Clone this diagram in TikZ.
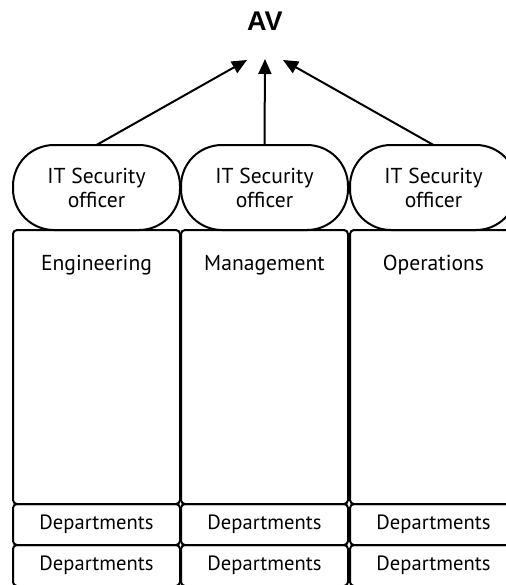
\documentclass[tikz,border=0pt]{standalone}
\usepackage{fontspec}
\usetikzlibrary{arrows.meta}
\newfontfamily\avfont{Liberation Sans}
\newfontfamily\labelfont{PT Sans}
\begin{document}
\begin{tikzpicture}[x=0.5pt,y=-0.5pt,
  every node/.style={inner sep=0pt,outer sep=0pt},
  pill/.style={draw,line width=1pt,rounded corners=20.5pt,minimum width=83.5pt,minimum height=42.5pt,
    align=center,font=\labelfont\fontsize{10.8}{12}\selectfont},
  unitbox/.style={draw,line width=1pt,rounded corners=2pt,minimum width=83.5pt,minimum height=137pt},
  unitname/.style={font=\labelfont\fontsize{10.8}{12}\selectfont},
  deptbox/.style={draw,line width=1pt,rounded corners=2pt,minimum width=83.5pt,minimum height=20.5pt,
    font=\labelfont\fontsize{10.3}{11}\selectfont},
  link/.style={line width=1pt,-{Triangle[length=7.5pt,width=6.5pt]}}]
\useasboundingbox (0,0) rectangle (506,585);
\clip (0,0) rectangle (506,585);

% top label and the three arrow ends below it
\node[font=\avfont\bfseries\fontsize{13.5}{14}\selectfont] (av) at (265,21) {AV};
\coordinate (tl) at (247,60);
\coordinate (tm) at (265,59);
\coordinate (tr) at (283,60);

% one column per unit
\foreach \n/\x/\u in {a/96.5/Engineering,b/264.5/Management,c/433.5/Operations}{
  \node[pill] (so\n) at (\x,187.5) {IT Security\\officer};
  \node[unitbox] (u\n) at (\x,367) {};
  \node[unitname] (un\n) at (\x,265) {\u};
  \node[deptbox] (d\n1) at (\x,524.5) {Departments};
  \node[deptbox] (d\n2) at (\x,565.5) {Departments};
}

\draw[link] (soa.north) -- (tl);
\draw[link] (sob.north) -- (tm);
\draw[link] (soc.north) -- (tr);
\end{tikzpicture}
\end{document}
